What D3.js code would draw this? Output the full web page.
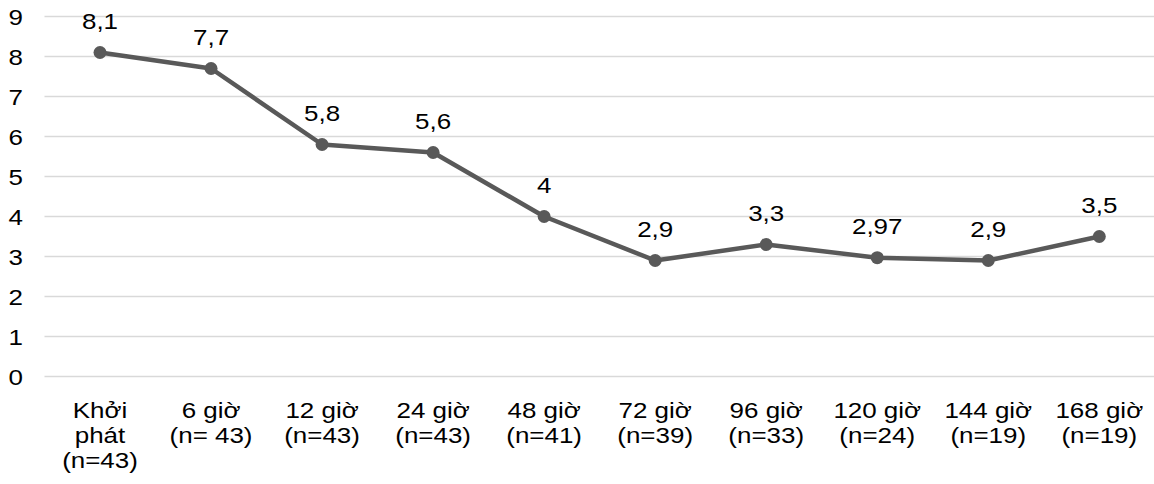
<!DOCTYPE html>
<html>
<head>
<meta charset="utf-8">
<script src="https://cdn.jsdelivr.net/npm/d3@7"></script>
<style>
  html, body { margin: 0; padding: 0; background: #fff; }
  svg { display: block; }
  text { font-family: "Liberation Sans", Arial, sans-serif; fill: #000; }
</style>
</head>
<body>
<svg id="chart" width="1154" height="484"></svg>
<script>
const categories = [
  ["Khởi", "phát", "(n=43)"],
  ["6 giờ", "(n= 43)"],
  ["12 giờ", "(n=43)"],
  ["24 giờ", "(n=43)"],
  ["48 giờ", "(n=41)"],
  ["72 giờ", "(n=39)"],
  ["96 giờ", "(n=33)"],
  ["120 giờ", "(n=24)"],
  ["144 giờ", "(n=19)"],
  ["168 giờ", "(n=19)"]
];
const values = [8.1, 7.7, 5.8, 5.6, 4, 2.9, 3.3, 2.97, 2.9, 3.5];
const valueLabels = ["8,1", "7,7", "5,8", "5,6", "4", "2,9", "3,3", "2,97", "2,9", "3,5"];
const yTicks = [0, 1, 2, 3, 4, 5, 6, 7, 8, 9];

const svg = d3.select("#chart");
const SX = 1.18;       // horizontal stretch of the reference's text
const FS = 22;

const keys = categories.map((c, i) => i);
const x = d3.scaleBand().domain(keys).range([44.5, 1154.8]);
const y = d3.scaleLinear().domain([0, 9]).range([376.5, 16.5]);
const cx = i => x(i) + x.bandwidth() / 2;

function stretchedText(g, tx, ty, str, anchor) {
  const t = g.append("g").attr("transform", `translate(${tx},${ty}) scale(${SX},1)`);
  t.append("text").attr("text-anchor", anchor).style("font-size", FS + "px").text(str);
}

// gridlines
const grid = svg.append("g");
grid.selectAll("line").data(yTicks).join("line")
  .attr("x1", x.range()[0]).attr("x2", x.range()[1])
  .attr("y1", d => y(d)).attr("y2", d => y(d))
  .attr("stroke", "#d9d9d9").attr("stroke-width", 1.5);

// y axis labels (using the scale's ticks)
const yAxisG = svg.append("g");
y.ticks(9).forEach(t => {
  stretchedText(yAxisG, 23, y(t) + 8, String(t), "end");
});

// x axis labels
const xAxisG = svg.append("g");
categories.forEach((lines, i) => {
  lines.forEach((ln, j) => {
    stretchedText(xAxisG, cx(i), 418 + j * 25, ln, "middle");
  });
});

// line
const line = d3.line().x((d, i) => cx(i)).y(d => y(d));
svg.append("path").datum(values)
  .attr("d", line)
  .attr("fill", "none")
  .attr("stroke", "#595959")
  .attr("stroke-width", 4.5)
  .attr("stroke-linejoin", "round");

// markers
svg.append("g").selectAll("circle").data(values).join("circle")
  .attr("cx", (d, i) => cx(i)).attr("cy", d => y(d))
  .attr("r", 6.5).attr("fill", "#595959");

// data labels
const lab = svg.append("g");
values.forEach((v, i) => {
  stretchedText(lab, cx(i), y(v) - 23.5, valueLabels[i], "middle");
});
</script>
</body>
</html>
